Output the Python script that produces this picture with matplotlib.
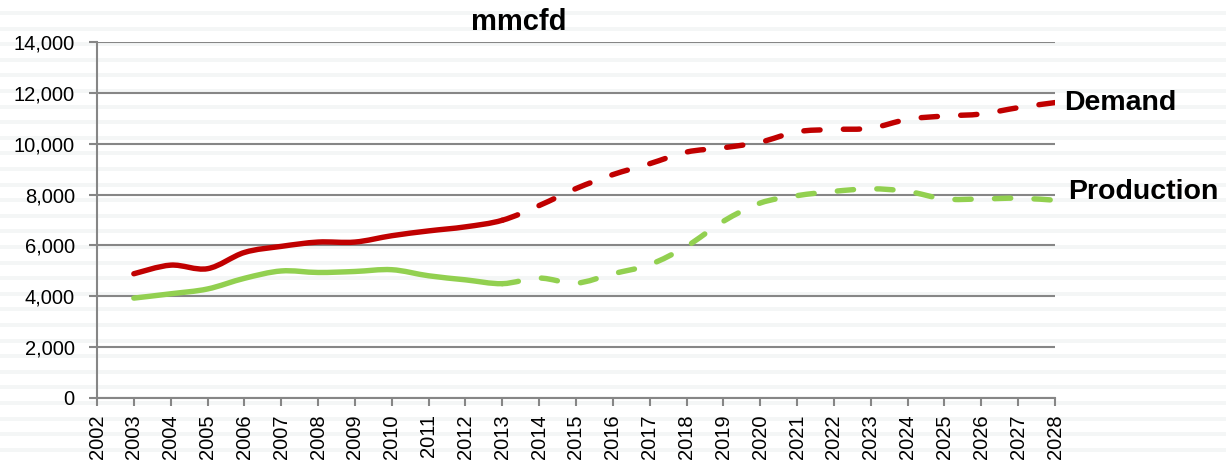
import numpy as np
import matplotlib
matplotlib.use('Agg')
import matplotlib.pyplot as plt
from matplotlib.path import Path
from matplotlib.patches import PathPatch

plt.rcParams['font.family'] = ['Liberation Sans', 'DejaVu Sans']

# Data (mmcfd)
years = list(range(2003, 2029))
demand = [4880, 5220, 5080, 5720, 5960, 6130, 6130, 6380, 6570, 6730, 6990,
          7570, 8240, 8790, 9220, 9680, 9850, 10070, 10480, 10570, 10620,
          10970, 11100, 11180, 11430, 11630]
production = [3920, 4090, 4280, 4700, 4990, 4930, 4970, 5040, 4800, 4640, 4490,
              4710, 4510, 4880, 5240, 5960, 6950, 7670, 7960, 8130, 8230,
              8130, 7830, 7830, 7860, 7780]
last_actual = 2013  # solid up to here, forecast (dashed) after

x_ticks = list(range(2002, 2029))
y_ticks = list(range(0, 14001, 2000))

W, H = 1226, 461
fig = plt.figure(figsize=(W / 100, H / 100), dpi=100)

# faint striped background
bg = fig.add_axes([0, 0, 1, 1], zorder=-1)
bg.set_xlim(0, 1)
bg.set_ylim(H, 0)
for yy in np.arange(11, H, 15.6):
    bg.axhspan(yy, yy + 4, color='#f4f6f6', lw=0)
bg.axis('off')

ax = fig.add_axes([97 / W, 1 - 397.5 / H, (1055 - 97) / W, (397.5 - 42.5) / H])
ax.patch.set_alpha(0)
ax.set_xlim(2002, 2028)
ax.set_ylim(0, 14000)


def smooth_segments(xs, ys, start, stop):
    # Bezier curve through the points (Excel-style smoothed line)
    pts = np.column_stack([xs, ys]).astype(float)
    n = len(pts)
    verts = [pts[start]]
    codes = [Path.MOVETO]
    for i in range(start, stop):
        p0 = pts[i - 1] if i > 0 else pts[i]
        p1 = pts[i]
        p2 = pts[i + 1]
        p3 = pts[i + 2] if i + 2 < n else pts[i + 1]
        verts += [p1 + (p2 - p0) / 6, p2 - (p3 - p1) / 6, p2]
        codes += [Path.CURVE4] * 3
    return Path(verts, codes)


split = years.index(last_actual)
for vals, col in [(demand, '#c00000'), (production, '#92d050')]:
    solid = smooth_segments(years, vals, 0, split)
    dashed = smooth_segments(years, vals, split, len(years) - 1)
    ax.add_patch(PathPatch(solid, fill=False, edgecolor=col, lw=3.9,
                           capstyle='round', joinstyle='round', zorder=3))
    p = PathPatch(dashed, fill=False, edgecolor=col, lw=3.9,
                  capstyle='round', joinstyle='round', zorder=3)
    p.set_linestyle((0, (3.0, 4.3)))
    ax.add_patch(p)

ax.set_xticks(x_ticks)
ax.set_xticklabels([str(y) for y in x_ticks], rotation=90, fontsize=14.5)
ax.set_yticks(y_ticks)
ax.set_yticklabels([f'{v:,}' for v in y_ticks], fontsize=14.5)
ax.tick_params(axis='x', length=6, width=1.5, color='#868686', pad=6)
ax.tick_params(axis='y', length=6, width=1.5, color='#868686', pad=10)

ax.yaxis.grid(True, color='#868686', lw=1.5)
ax.set_axisbelow(True)
for s in ['top', 'right']:
    ax.spines[s].set_visible(False)
for s in ['left', 'bottom']:
    ax.spines[s].set_color('#868686')
    ax.spines[s].set_linewidth(1.5)

fig.text(519 / W, 1 - 22 / H, 'mmcfd', ha='center', va='center',
         fontsize=21, fontweight='bold')
fig.text(1064 / W, 1 - 103 / H, 'Demand', ha='left', va='center',
         fontsize=20.5, fontweight='bold')
fig.text(1068 / W, 1 - 192 / H, 'Production', ha='left', va='center',
         fontsize=20.5, fontweight='bold')

fig.savefig('out.png', dpi=100)
